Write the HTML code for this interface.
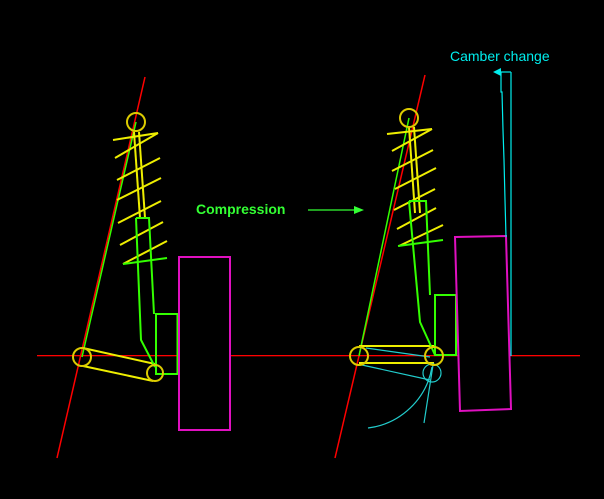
<!DOCTYPE html>
<html><head><meta charset="utf-8"><style>html,body{margin:0;padding:0;background:#000}svg{display:block}</style></head><body>
<svg width="604" height="499" viewBox="0 0 604 499" xmlns="http://www.w3.org/2000/svg">
<rect width="604" height="499" fill="#000"/>
<rect x="37" y="355" width="543" height="1.3" fill="#f00"/>
<!-- LEFT -->
<line x1="145" y1="77" x2="57" y2="458" stroke="#f00" stroke-width="1.5"/>
<line x1="82" y1="357" x2="136" y2="122" stroke="#3f0" stroke-width="1.5"/>
<g stroke="#ee0" stroke-width="2" fill="none">
<line x1="113" y1="140" x2="158" y2="133"/><line x1="158" y1="133" x2="115" y2="158"/>
<line x1="117" y1="180" x2="160" y2="158"/><line x1="117" y1="200" x2="161" y2="178"/>
<line x1="118" y1="223" x2="161" y2="201"/><line x1="120" y1="245" x2="163" y2="222"/>
<line x1="123" y1="264" x2="167" y2="241"/>
<line x1="134" y1="132" x2="140" y2="218"/><line x1="139" y1="132" x2="145" y2="218"/>
<line x1="83" y1="348" x2="155" y2="364"/><line x1="83" y1="366" x2="153" y2="381"/>
</g>
<g stroke="#3f0" stroke-width="2" fill="none">
<line x1="123" y1="264" x2="167" y2="258"/>
<polyline points="136,218 149,218 154,314"/>
<polyline points="136,218 141,340 155,367"/>
<rect x="156" y="314" width="21.5" height="60"/>
</g>
<g stroke="#dc0" stroke-width="2" fill="none">
<circle cx="136" cy="122" r="9"/><circle cx="82" cy="357" r="9"/><circle cx="155" cy="373" r="8"/>
</g>
<rect x="179" y="257" width="51" height="173" fill="#000" stroke="#e010c0" stroke-width="2"/>
<!-- RIGHT -->
<line x1="425" y1="75" x2="335" y2="458" stroke="#f00" stroke-width="1.5"/>
<line x1="359" y1="356" x2="409" y2="118" stroke="#3f0" stroke-width="1.5"/>
<g stroke="#ee0" stroke-width="2" fill="none">
<line x1="387" y1="134" x2="432" y2="129"/><line x1="432" y1="129" x2="392" y2="151"/>
<line x1="392" y1="171" x2="433" y2="150"/><line x1="395" y1="189" x2="436" y2="168"/>
<line x1="394" y1="210" x2="435" y2="189"/><line x1="397" y1="229" x2="436" y2="208"/>
<line x1="399" y1="246" x2="443" y2="225"/>
<line x1="409" y1="127" x2="415" y2="213"/><line x1="414" y1="127" x2="420" y2="213"/>
<line x1="359" y1="346" x2="434" y2="346"/><line x1="359" y1="363" x2="434" y2="363"/>
</g>
<g stroke="#3f0" stroke-width="2" fill="none">
<line x1="398" y1="246" x2="443" y2="240"/>
<polyline points="409,201 426,201 430,295"/>
<polyline points="409,201 420,322 435,355"/>
<rect x="435" y="295" width="21" height="60"/>
</g>
<g stroke="#2cc" stroke-width="1.2" fill="none">
<line x1="366" y1="348" x2="430" y2="357"/><line x1="362" y1="365" x2="430" y2="380"/>
<circle cx="432" cy="373" r="9"/>
<path d="M368,428 A74,74 0 0 0 432,367"/>
<line x1="433" y1="365" x2="424" y2="423"/>
</g>
<g stroke="#dc0" stroke-width="2" fill="none">
<circle cx="409" cy="118" r="9"/><circle cx="359" cy="356" r="9"/><circle cx="434" cy="356" r="9"/>
</g>
<polygon points="455,237 506,236 511,409 460,411" fill="#000" stroke="#e010c0" stroke-width="2"/>
<g stroke="#0ee" stroke-width="1.2" fill="none">
<line x1="511" y1="72" x2="511" y2="356"/>
<polyline points="498,72 511,72"/>
<polyline points="501,72 501,92 502,92 503,130 504,160 505,200 506,237"/>
</g>
<polygon points="493,72 501,68 501,76" fill="#0ee"/>
<text x="450" y="61" font-family="Liberation Sans, sans-serif" font-size="14" fill="#0ee">Camber change</text>
<text x="196" y="214" font-family="Liberation Sans, sans-serif" font-size="14" font-weight="bold" fill="#3f3">Compression</text>
<line x1="308" y1="210" x2="356" y2="210" stroke="#3f3" stroke-width="1.2"/>
<polygon points="364,210 354,206 354,214" fill="#3f3"/>
</svg>
</body></html>
